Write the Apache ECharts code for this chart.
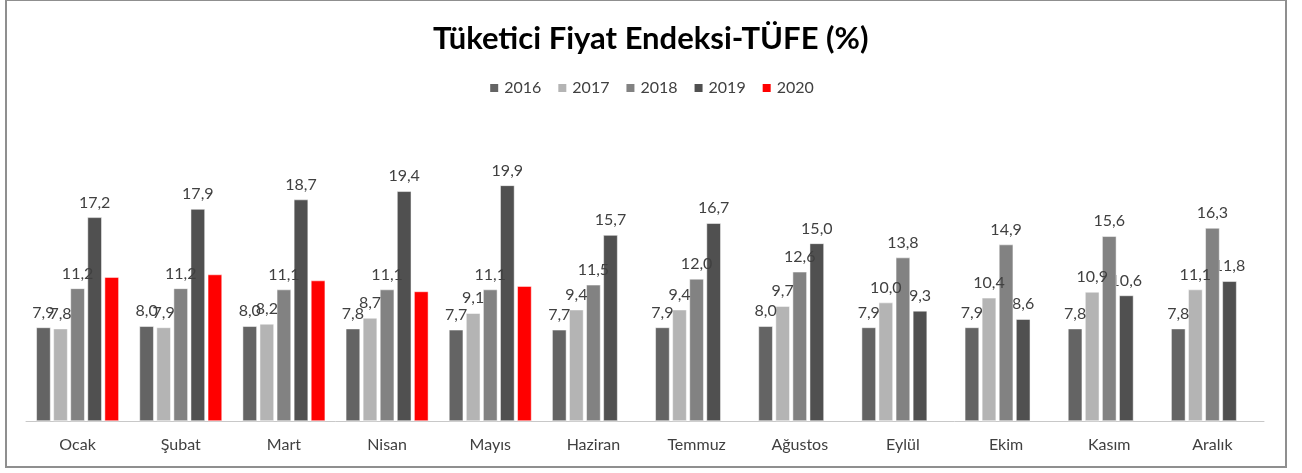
<!DOCTYPE html>
<html>
<head>
    <meta charset="utf-8" />
    <title>TÜFE</title>
    <style>
        html, body { margin: 0; padding: 0; background: #fff; }
        #main { width: 1302px; height: 473px; position: relative; }
        #frame {
            position: absolute; left: 5px; top: -1px;
            width: 1278px; height: 465px;
            border: 2px solid #8f8f8f; pointer-events: none;
        }
    </style>
</head>
<body>
    <div id="main"></div>
    <div id="frame"></div>
<script src="https://cdn.jsdelivr.net/npm/echarts@6/dist/echarts.min.js"></script>
<script type="text/javascript">
    var months = ['Ocak', 'Şubat', 'Mart', 'Nisan', 'Mayıs', 'Haziran', 'Temmuz', 'Ağustos', 'Eylül', 'Ekim', 'Kasım', 'Aralık'];
    var years = ['2016', '2017', '2018', '2019', '2020'];
    var v2016 = [7.9, 8.0, 8.0, 7.8, 7.7, 7.7, 7.9, 8.0, 7.9, 7.9, 7.8, 7.8];
    var v2017 = [7.8, 7.9, 8.2, 8.7, 9.1, 9.4, 9.4, 9.7, 10.0, 10.4, 10.9, 11.1];
    var v2018 = [11.2, 11.2, 11.1, 11.1, 11.1, 11.5, 12.0, 12.6, 13.8, 14.9, 15.6, 16.3];
    var v2019 = [17.2, 17.9, 18.7, 19.4, 19.9, 15.7, 16.7, 15.0, 9.3, 8.6, 10.6, 11.8];
    var v2020 = [12.15, 12.37, 11.86, 10.94, 11.39, null, null, null, null, null, null, null];

    var colors = ['#646464', '#b4b4b4', '#828282', '#505050', '#ff0000'];
    var allValues = [v2016, v2017, v2018, v2019, v2020];
    var font = 'Lato, "Noto Sans", sans-serif';

    var myChart = echarts.init(document.getElementById('main'));

    // earlier years on top so their labels sit over the next bar, as in Excel
    var series = years.map(function (y, i) {
        return {
            name: y,
            type: 'bar',
            z: 10 - i,
            data: allValues[i],
            barGap: '20%',
            barCategoryGap: '20%',
            itemStyle: { color: colors[i], borderColor: '#ffffff', borderWidth: 0.5 },
            label: {
                show: i < 4,
                position: 'top',
                distance: 7,
                color: '#404040',
                fontSize: 16,
                fontFamily: font,
                formatter: function (p) {
                    return p.value.toFixed(1).replace('.', ',');
                }
            }
        };
    });

    var option = {
        animation: false,
        backgroundColor: '#fff',
        title: {
            text: 'Tüketici Fiyat Endeksi-TÜFE (%)',
            left: 428,
            top: 18,
            textStyle: { fontSize: 31, fontWeight: 'bold', color: '#000', fontFamily: font }
        },
        legend: {
            top: 75,
            left: 'center',
            itemWidth: 10,
            itemHeight: 10,
            itemGap: 15,
            icon: 'rect',
            textStyle: { fontSize: 16, color: '#404040', fontFamily: font },
            data: years
        },
        grid: { left: 26, right: 38, top: 125, bottom: 52 },
        xAxis: {
            type: 'category',
            data: months,
            axisLine: { lineStyle: { color: '#c8c8c8', width: 1 } },
            axisTick: { show: false },
            axisLabel: { color: '#404040', fontSize: 16, fontFamily: font, margin: 16 }
        },
        yAxis: {
            type: 'value',
            min: 0,
            max: 25,
            show: false,
            splitLine: { show: false }
        },
        series: series
    };

    myChart.setOption(option);
</script>
</body>
</html>
